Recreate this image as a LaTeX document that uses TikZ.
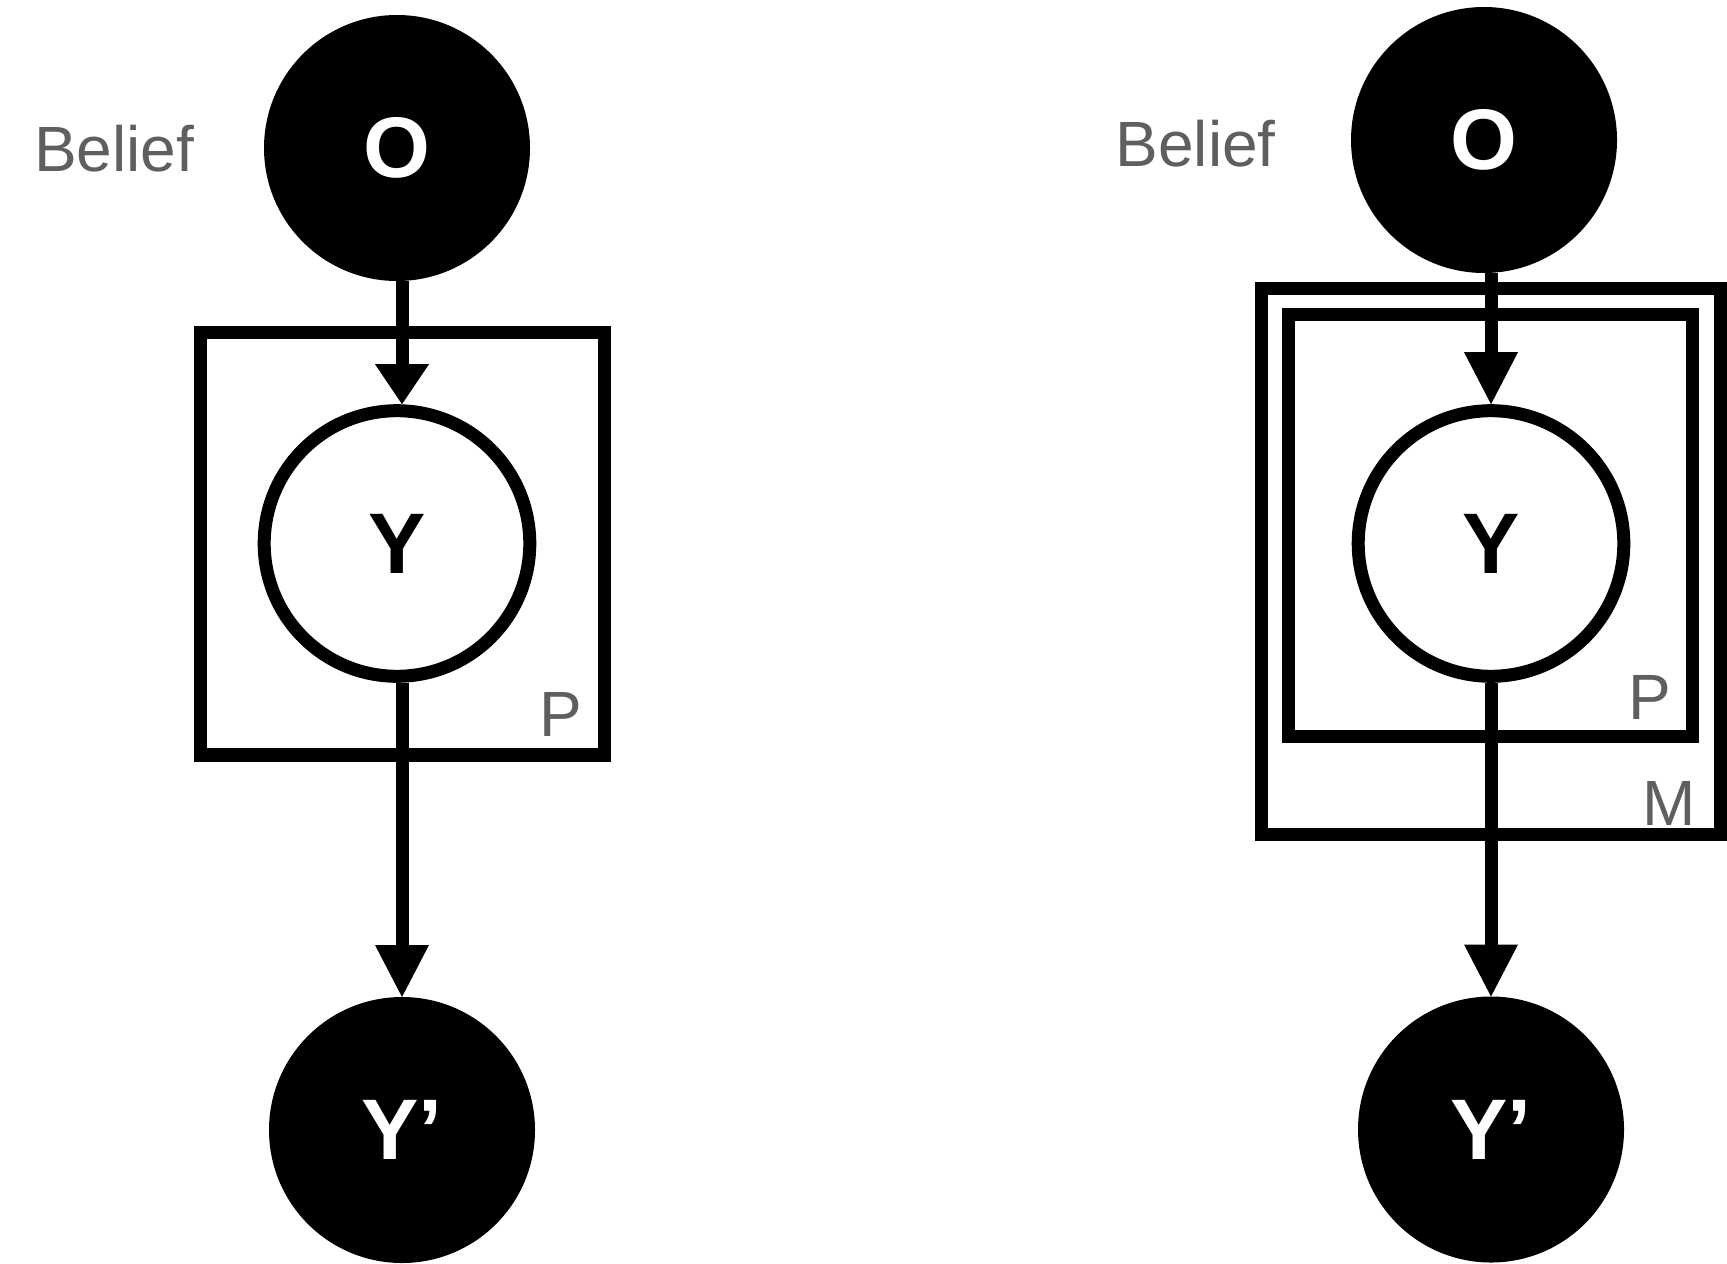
\documentclass[tikz,border=0pt]{standalone}
\usepackage{fontspec}
\setmainfont{Liberation Sans}
\usetikzlibrary{arrows.meta}
\definecolor{labelgray}{RGB}{95,95,95}
\begin{document}
\begin{tikzpicture}[x=0.5pt,y=-0.5pt,
  observed/.style={circle, fill=black, draw=black, line width=6.5pt,
    minimum size=126.5pt, inner sep=0pt, text=white,
    font=\fontsize{43}{43}\selectfont\bfseries},
  latent/.style={circle, fill=white, draw=black, line width=6.5pt,
    minimum size=132.8pt, inner sep=0pt, text=black,
    font=\fontsize{43}{43}\selectfont\bfseries},
  plate/.style={draw=black, line width=6.65pt, rectangle, inner sep=0pt},
  platelabel/.style={text=labelgray, font=\fontsize{32}{32}\selectfont,
    inner sep=0pt, anchor=base west},
  conn/.style={draw=black, line width=6.5pt},
  headlong/.style={-{Triangle[length=26pt,width=27pt,line width=0pt]}},
  headshort/.style={-{Triangle[length=20pt,width=27pt,line width=0pt]}},
]
\useasboundingbox (0,0) rectangle (1727,1263);

% ---- single plate model ----
\node[plate, minimum width=201.75pt, minimum height=211.25pt] (P1) at (402.45,543.75) {};
\node[observed] (O1) at (397,148) {O};
\node[latent] (Y1) at (397,543.5) {Y};
\node[observed] (Yp1) at (402,1130) {Y’};
\node[platelabel] (B1) at (33.6,171.7) {Belief};
\node[platelabel] (L1) at (539.4,736.7) {P};
\draw[conn, headshort] (O1.south -| Yp1) -- (Y1.north -| Yp1);
\draw[conn, headlong] (Y1.south -| Yp1) -- (Yp1.north);

% ---- nested plate model ----
\node[plate, minimum width=229.3pt, minimum height=272.95pt] (M2) at (1491,561.25) {};
\node[plate, minimum width=201.8pt, minimum height=211pt] (P2) at (1490.5,525.7) {};
\node[observed] (O2) at (1484,140) {O};
\node[latent] (Y2) at (1491,543.5) {Y};
\node[observed] (Yp2) at (1491,1129.5) {Y’};
\node[platelabel] (B2) at (1115.3,166.5) {Belief};
\node[platelabel] (L2) at (1627.8,719.3) {P};
\node[platelabel] (L3) at (1642,825.7) {M};
\draw[conn, headlong] (O2.south -| Y2) -- (Y2.north);
\draw[conn, headlong] (Y2.south) -- (Yp2.north);
\end{tikzpicture}
\end{document}
